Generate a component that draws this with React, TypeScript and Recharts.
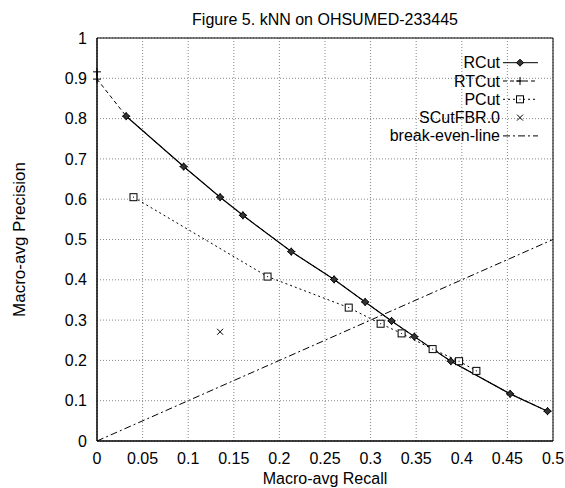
import React from 'react';
import {
  ComposedChart,
  Line,
  XAxis,
  YAxis,
  CartesianGrid,
  ReferenceArea,
} from 'recharts';

const X_TICKS = [0, 0.05, 0.1, 0.15, 0.2, 0.25, 0.3, 0.35, 0.4, 0.45, 0.5];
const Y_TICKS = [0, 0.1, 0.2, 0.3, 0.4, 0.5, 0.6, 0.7, 0.8, 0.9, 1];

const RCUT_RECALL = [0.032, 0.095, 0.135, 0.16, 0.213, 0.26, 0.294, 0.323, 0.348, 0.388, 0.453, 0.494];
const RCUT_PRECISION = [0.806, 0.681, 0.605, 0.56, 0.47, 0.401, 0.345, 0.298, 0.259, 0.198, 0.117, 0.074];

const RTCUT_RECALL = [0, 0, 0.032, 0.095, 0.135, 0.16, 0.213, 0.26, 0.294, 0.323, 0.348, 0.388, 0.453, 0.494];
const RTCUT_PRECISION = [0.916, 0.898, 0.806, 0.681, 0.605, 0.56, 0.47, 0.401, 0.345, 0.298, 0.259, 0.198, 0.117, 0.074];

const PCUT_RECALL = [0.04, 0.187, 0.276, 0.311, 0.334, 0.368, 0.397, 0.416];
const PCUT_PRECISION = [0.605, 0.408, 0.331, 0.291, 0.267, 0.228, 0.198, 0.174];

const SCUT_RECALL = [0.135];
const SCUT_PRECISION = [0.271];

const BEP_RECALL = [0, 0.5];
const BEP_PRECISION = [0, 0.5];

const SERIES_NAMES = ['RCut', 'RTCut', 'PCut', 'SCutFBR.0', 'break-even-line'];

const zip = (xs: number[], ys: number[]) => xs.map((x, i) => ({ x, y: ys[i] }));

const rcut = zip(RCUT_RECALL, RCUT_PRECISION);
const rtcut = zip(RTCUT_RECALL, RTCUT_PRECISION);
const pcut = zip(PCUT_RECALL, PCUT_PRECISION);
const scut = zip(SCUT_RECALL, SCUT_PRECISION);
const bep = zip(BEP_RECALL, BEP_PRECISION);

const FONT = '"Liberation Sans", Arial, sans-serif';

const Diamond = ({ cx, cy, r = 3.5 }: any) => (
  <path
    d={`M${cx},${cy - r}L${cx + r},${cy}L${cx},${cy + r}L${cx - r},${cy}Z`}
    fill="#333"
    stroke="#000"
    strokeWidth={1}
  />
);

const Plus = ({ cx, cy, r = 4 }: any) => (
  <path d={`M${cx - r},${cy}H${cx + r}M${cx},${cy - r}V${cy + r}`} stroke="#000" strokeWidth={1} fill="none" />
);

const Square = ({ cx, cy, r = 3.5 }: any) => (
  <g>
    <rect x={cx - r} y={cy - r} width={2 * r} height={2 * r} fill="#fff" stroke="#000" strokeWidth={1} />
    <rect x={cx - 0.5} y={cy - 0.5} width={1} height={1} fill="#000" />
  </g>
);

const Cross = ({ cx, cy, r = 3 }: any) => (
  <path d={`M${cx - r},${cy - r}L${cx + r},${cy + r}M${cx - r},${cy + r}L${cx + r},${cy - r}`} stroke="#000" strokeWidth={1} fill="none" />
);

const LEGEND_STYLES = [
  { dash: undefined, Mark: Diamond },
  { dash: '4 3', Mark: Plus },
  { dash: '2 3', Mark: Square },
  { dash: 'none', Mark: Cross },
  { dash: '7 3 2 3', Mark: null },
];

function LegendBox() {
  // legend sits in the upper right corner of the plot
  const left = 380;
  const top = 52;
  return (
    <g>
      {SERIES_NAMES.map((name, i) => {
        const y = top + 10.7 + i * 18.3;
        const st = LEGEND_STYLES[i];
        const Mark = st.Mark;
        return (
          <g key={name}>
            <text x={left + 120} y={y} textAnchor="end" dominantBaseline="central" fontSize={16} fontFamily={FONT} fill="#000">
              {name}
            </text>
            {st.dash !== 'none' && (
              <line x1={left + 123} x2={left + 158} y1={y} y2={y} stroke="#000" strokeWidth={1} strokeDasharray={st.dash} />
            )}
            {Mark && <Mark cx={left + 140} cy={y} />}
          </g>
        );
      })}
    </g>
  );
}

export default function App() {
  const tickStyle = { fontSize: 16, fontFamily: FONT, fill: '#000' };
  return (
    <div style={{ position: 'absolute', left: 0, top: 0, width: 565, height: 488, background: '#fff' }}>
      <ComposedChart width={565} height={488} margin={{ top: 38, right: 12, left: 0, bottom: 17 }}>
        <CartesianGrid stroke="#888" strokeDasharray="1 2" />
        <XAxis
          dataKey="x"
          type="number"
          domain={[0, 0.5]}
          ticks={X_TICKS}
          tickLine={false}
          tickSize={6}
          tickMargin={6}
          height={30}
          axisLine={{ stroke: '#000' }}
          tick={tickStyle}
          interval={0}
        />
        <YAxis
          type="number"
          domain={[0, 1]}
          ticks={Y_TICKS}
          tickLine={false}
          tickSize={6}
          tickMargin={4}
          width={97}
          axisLine={{ stroke: '#000' }}
          tick={tickStyle}
          interval={0}
        />
        <ReferenceArea x1={0} x2={0.5} y1={0} y2={1} fill="none" stroke="#000" strokeWidth={1} />
        <Line
          data={bep}
          dataKey="y"
          name="break-even-line"
          type="linear"
          stroke="#000"
          strokeWidth={1}
          strokeDasharray="7 3 2 3"
          dot={false}
          isAnimationActive={false}
        />
        <Line
          data={pcut}
          dataKey="y"
          name="PCut"
          type="linear"
          stroke="#000"
          strokeWidth={1}
          strokeDasharray="2 3"
          dot={(p: any) => <Square key={`pc-${p.index}`} cx={p.cx} cy={p.cy} />}
          isAnimationActive={false}
        />
        <Line
          data={rtcut}
          dataKey="y"
          name="RTCut"
          type="linear"
          stroke="#000"
          strokeWidth={1}
          strokeDasharray="4 3"
          dot={(p: any) => <Plus key={`rt-${p.index}`} cx={p.cx} cy={p.cy} />}
          isAnimationActive={false}
        />
        <Line
          data={rcut}
          dataKey="y"
          name="RCut"
          type="linear"
          stroke="#000"
          strokeWidth={1.2}
          dot={(p: any) => <Diamond key={`rc-${p.index}`} cx={p.cx} cy={p.cy} />}
          isAnimationActive={false}
        />
        <Line
          data={scut}
          dataKey="y"
          name="SCutFBR.0"
          type="linear"
          stroke="none"
          dot={(p: any) => <Cross key={`sc-${p.index}`} cx={p.cx} cy={p.cy} />}
          isAnimationActive={false}
        />
      </ComposedChart>
      <svg
        width={565}
        height={488}
        style={{ position: 'absolute', left: 0, top: 0, pointerEvents: 'none' }}
      >
        <text x={325} y={25} textAnchor="middle" fontSize={16} fontFamily={FONT} fill="#000">
          Figure 5. kNN on OHSUMED-233445
        </text>
        <text x={325} y={484} textAnchor="middle" fontSize={16} fontFamily={FONT} fill="#000">
          Macro-avg Recall
        </text>
        <text
          x={19}
          y={239.5}
          textAnchor="middle"
          dominantBaseline="central"
          fontSize={17}
          fontFamily={FONT}
          fill="#000"
          transform="rotate(-90 19 239.5)"
        >
          Macro-avg Precision
        </text>
        <LegendBox />
      </svg>
    </div>
  );
}
